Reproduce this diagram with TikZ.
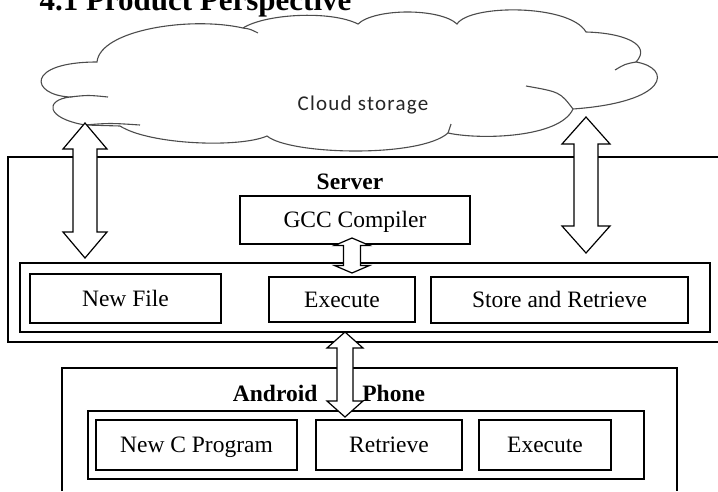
\documentclass[tikz,border=0pt]{standalone}
\usepackage{fontspec}
\setmainfont{Liberation Serif}
\newfontfamily\cloudfont{Carlito}[LetterSpace=6]
\usepackage{tikz}
\usetikzlibrary{calc}

\begin{document}
\begin{tikzpicture}[x=1pt,y=-1pt,
    compbox/.style={draw,line width=1.2pt,inner sep=0pt,text height=15.6pt,text depth=0pt,
      font=\fontsize{23.5}{28}\selectfont},
    outerbox/.style={draw,line width=1.2pt},
    cloudline/.style={draw=black!70,line width=1.1pt},
    boldlbl/.style={font=\fontsize{23.5}{28}\selectfont\bfseries,anchor=base},
    blockarrow/.style n args={3}{draw,fill=white,line width=1.2pt,to path={
      let \p1=(\tikztostart), \p2=(\tikztotarget) in
      (\p1) -- (\x1+#1,\y1-#3) -- (\x1+#2,\y1-#3) -- (\x1+#2,\y2+#3)
      -- (\x1+#1,\y2+#3) -- (\p2) -- (\x1-#1,\y2+#3) -- (\x1-#2,\y2+#3)
      -- (\x1-#2,\y1-#3) -- (\x1-#1,\y1-#3) -- cycle}}]
  \useasboundingbox (0,0) rectangle (718,491);

  % title, cut at the top
  \node[font=\fontsize{31}{36}\selectfont\bfseries,anchor=base west] (title) at (36,10) {4.1 Product Perspective};

  % cloud
  \draw[cloudline,fill=white] (70,97) .. controls (30,95) and (25,62) .. (97,62)
    .. controls (100,30) and (190,16) .. (243,28)
    .. controls (265,14) and (330,10) .. (358,24)
    .. controls (375,8) and (440,8) .. (457,24)
    .. controls (470,4) and (570,4) .. (586,32)
    .. controls (625,33) and (652,45) .. (636,62)
    .. controls (672,68) and (670,102) .. (573,109)
    .. controls (560,138) and (480,140) .. (448,133)
    .. controls (420,158) and (290,155) .. (267,136)
    .. controls (240,148) and (150,145) .. (120,126)
    -- (85,125) .. controls (45,118) and (45,100) .. (70,97) -- cycle;
  \draw[cloudline] (70,97) .. controls (88,95) .. (108,97);
  \draw[cloudline] (85,125) .. controls (110,123) .. (140,125);
  \draw[cloudline] (243,28) .. controls (250,29) .. (258,33);
  \draw[cloudline] (636,62) .. controls (625,64) .. (615,70);
  \draw[cloudline] (573,109) .. controls (560,92) .. (526,86);
  \draw[cloudline] (448,133) .. controls (450,128) .. (451,124);
  \node[font=\cloudfont\fontsize{21}{25}\selectfont,text=black!85,anchor=base] (cloudtxt) at (363,110) {Cloud storage};

  % server
  \draw[outerbox] (718,157) -| (8,342) -- (718,342);
  \node[boldlbl] (srv) at (350,189) {Server};
  \node[compbox,minimum width=230pt,minimum height=48pt] (gcc) at (355,220) {GCC Compiler};
  \node[compbox,minimum width=690pt,minimum height=69pt] (srvin) at (365,297.5) {};
  \node[compbox,minimum width=191pt,minimum height=49pt] (newfile) at (125.5,298.5) {New File};
  \node[compbox,minimum width=146pt,minimum height=45pt] (srvexec) at (342,299.5) {Execute};
  \node[compbox,minimum width=257pt,minimum height=46pt] (store) at (559.5,300) {Store and Retrieve};

  % android phone
  \draw[outerbox] (62,491) |- (677,368) -- (677,491);
  \node[boldlbl] (phone) at (329,401) {Android\hspace{45pt}Phone};
  \node[compbox,minimum width=556pt,minimum height=68pt] (andin) at (366,445) {};
  \node[compbox,minimum width=201pt,minimum height=50pt] (newc) at (196.5,445) {New C Program};
  \node[compbox,minimum width=146pt,minimum height=50pt] (retr) at (389,445) {Retrieve};
  \node[compbox,minimum width=132pt,minimum height=50pt] (andexec) at (545,445) {Execute};

  % block arrows
  \coordinate (cloudL) at (85,123);
  \coordinate (srvL) at (85,258);
  \coordinate (cloudR) at (586,117);
  \coordinate (srvR) at (586,253);
  \coordinate (gccout) at (352,238);
  \coordinate (execin) at (352,273);
  \coordinate (srvout) at (345,332);
  \coordinate (phonein) at (345,417);
  \draw[blockarrow={22pt}{12pt}{26pt}] (cloudL) to (srvL);
  \draw[blockarrow={24pt}{12pt}{27pt}] (cloudR) to (srvR);
  \draw[blockarrow={17.5pt}{8.5pt}{7.5pt}] (gccout) to (execin);
  \draw[blockarrow={18pt}{8pt}{16pt}] (srvout) to (phonein);
\end{tikzpicture}
\end{document}
